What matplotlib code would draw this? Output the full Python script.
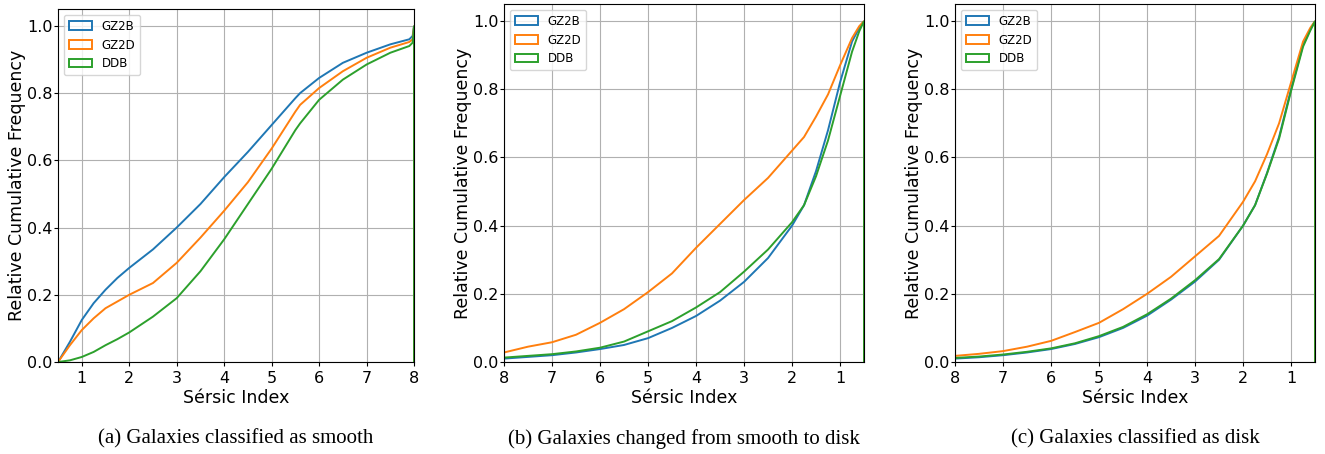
import matplotlib
matplotlib.use("Agg")
import matplotlib.pyplot as plt
from matplotlib.patches import Patch

# ---------------- data (cumulative fractions) ----------------
labels = ["GZ2B", "GZ2D", "DDB"]
colors = ["#1f77b4", "#ff7f0e", "#2ca02c"]

# (a) smooth: fraction with n <= x
xa = [0.5, 0.75, 1.0, 1.25, 1.5, 1.75, 2.0, 2.5, 3.0, 3.5, 4.0, 4.5, 5.0, 5.5, 5.6,
      6.0, 6.5, 7.0, 7.5, 7.9, 7.97, 8.0]
a_gz2b = [0.0, 0.06, 0.125, 0.175, 0.215, 0.25, 0.28, 0.335, 0.40, 0.47, 0.55, 0.625,
          0.705, 0.785, 0.80, 0.845, 0.89, 0.92, 0.945, 0.96, 0.97, 1.0]
a_gz2d = [0.0, 0.05, 0.095, 0.13, 0.16, 0.18, 0.20, 0.235, 0.295, 0.37, 0.45, 0.535,
          0.635, 0.745, 0.765, 0.815, 0.865, 0.905, 0.935, 0.952, 0.96, 1.0]
a_ddb = [0.0, 0.005, 0.015, 0.03, 0.05, 0.068, 0.088, 0.135, 0.19, 0.27, 0.365, 0.47,
         0.575, 0.69, 0.71, 0.78, 0.84, 0.885, 0.92, 0.94, 0.95, 1.0]

# (b) changed smooth -> disk: fraction with n >= x
xb = [8.0, 7.5, 7.0, 6.5, 6.0, 5.5, 5.0, 4.5, 4.0, 3.5, 3.0, 2.5, 2.0, 1.75, 1.5,
      1.25, 1.0, 0.75, 0.6, 0.5]
b_gz2b = [0.01, 0.015, 0.02, 0.028, 0.038, 0.05, 0.07, 0.10, 0.135, 0.18, 0.235, 0.305,
          0.40, 0.46, 0.56, 0.68, 0.82, 0.94, 0.98, 1.0]
b_gz2d = [0.028, 0.045, 0.058, 0.08, 0.115, 0.155, 0.205, 0.26, 0.335, 0.405, 0.475,
          0.54, 0.62, 0.66, 0.72, 0.785, 0.87, 0.95, 0.985, 1.0]
b_ddb = [0.013, 0.018, 0.023, 0.031, 0.042, 0.06, 0.09, 0.12, 0.16, 0.205, 0.265, 0.33,
         0.41, 0.46, 0.545, 0.65, 0.78, 0.91, 0.97, 1.0]

# (c) disk: fraction with n >= x
xc = [8.0, 7.5, 7.0, 6.5, 6.0, 5.5, 5.0, 4.5, 4.0, 3.5, 3.0, 2.5, 2.0, 1.75, 1.5,
      1.25, 1.0, 0.75, 0.6, 0.5]
c_gz2b = [0.01, 0.014, 0.02, 0.028, 0.038, 0.053, 0.073, 0.10, 0.136, 0.183, 0.236, 0.30,
          0.40, 0.46, 0.555, 0.66, 0.80, 0.93, 0.975, 1.0]
c_gz2d = [0.018, 0.024, 0.032, 0.045, 0.062, 0.088, 0.115, 0.155, 0.20, 0.25, 0.31, 0.37,
          0.47, 0.53, 0.61, 0.70, 0.82, 0.94, 0.98, 1.0]
c_ddb = [0.012, 0.016, 0.022, 0.03, 0.04, 0.055, 0.076, 0.103, 0.14, 0.186, 0.24, 0.302,
         0.40, 0.46, 0.553, 0.655, 0.795, 0.925, 0.972, 1.0]

captions = ["(a) Galaxies classified as smooth",
            "(b) Galaxies changed from smooth to disk",
            "(c) Galaxies classified as disk"]
xlabel = "Sérsic Index"
ylabel = "Relative Cumulative Frequency"
yticks = [0.0, 0.2, 0.4, 0.6, 0.8, 1.0]
xticks = [1, 2, 3, 4, 5, 6, 7, 8]

# ---------------- figure ----------------
fig = plt.figure(figsize=(13.25, 4.54), dpi=100)
axes = [fig.add_axes([0.0438, 0.2026, 0.2687, 0.7775]),
        fig.add_axes([0.3804, 0.2026, 0.2717, 0.7885]),
        fig.add_axes([0.7208, 0.2026, 0.2717, 0.7885])]

panels = [(xa, [a_gz2b, a_gz2d, a_ddb], False),
          (xb, [b_gz2b, b_gz2d, b_ddb], True),
          (xc, [c_gz2b, c_gz2d, c_ddb], True)]

for ax, (xs, series, inverted), cap in zip(axes, panels, captions):
    for ys, col in zip(series, colors):
        # step-histogram outline closes with a vertical edge down to zero at the end
        ax.plot(list(xs) + [xs[-1]], list(ys) + [0.0], color=col, lw=1.4,
                solid_joinstyle="miter")
    ax.grid(True, color="#b0b0b0", lw=0.8)
    ax.set_axisbelow(True)
    ax.set_ylim(0, 1.05)
    if inverted:
        ax.set_xlim(8, 0.5)
    else:
        ax.set_xlim(0.5, 8)
    ax.set_xticks(xticks)
    ax.set_yticks(yticks)
    ax.set_yticklabels([f"{v:.1f}" for v in yticks])
    ax.tick_params(labelsize=11.5, length=3)
    ax.tick_params(axis="y", pad=1.0)
    ax.set_xlabel(xlabel, fontsize=12.5, labelpad=2)
    ax.set_ylabel(ylabel, fontsize=12.5, labelpad=1)
    handles = [Patch(facecolor="none", edgecolor=c, lw=1.4) for c in colors]
    ax.legend(handles, labels, loc="upper left", fontsize=8.5)
    bb = ax.get_position()
    fig.text(bb.x0 + bb.width / 2, 0.034, cap, ha="center", va="center",
             fontsize=15, family="Liberation Serif")

fig.savefig("out.png", dpi=100)
